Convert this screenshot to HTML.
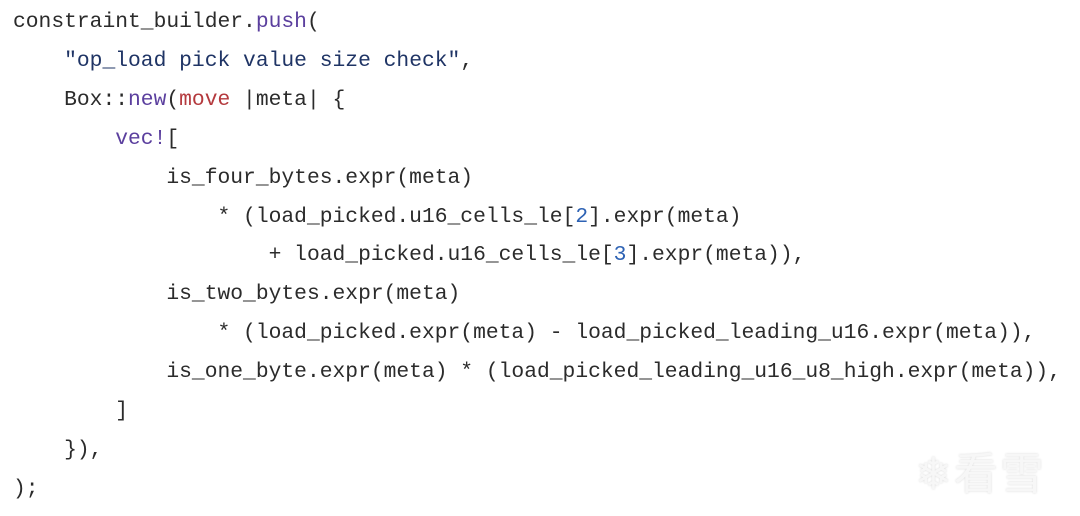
<!DOCTYPE html>
<html><head><meta charset="utf-8"><style>
html,body{margin:0;padding:0;background:#fff;width:1080px;height:516px;overflow:hidden;position:relative}
pre{margin:0;position:absolute;left:13px;top:3px;font-family:"Liberation Mono",monospace;font-size:21.3px;line-height:38.9px;color:#2b2b2b}
.f{color:#5b3f9e}.k{color:#b4393d}.s{color:#1f3465}.n{color:#2d62b4}
.wm{position:absolute;left:915px;top:438px;font-family:"Noto Sans CJK SC",sans-serif;font-size:44px;color:#f7f7f7;text-shadow:0 0 2px #d8d8d8;letter-spacing:2px}
</style></head><body>
<pre>constraint_builder.<span class="f">push</span>(
    <span class="s">"op_load pick value size check"</span>,
    Box::<span class="f">new</span>(<span class="k">move</span> |meta| {
        <span class="f">vec!</span>[
            is_four_bytes.expr(meta)
                * (load_picked.u16_cells_le[<span class="n">2</span>].expr(meta)
                    + load_picked.u16_cells_le[<span class="n">3</span>].expr(meta)),
            is_two_bytes.expr(meta)
                * (load_picked.expr(meta) - load_picked_leading_u16.expr(meta)),
            is_one_byte.expr(meta) * (load_picked_leading_u16_u8_high.expr(meta)),
        ]
    }),
);</pre>
<div class="wm">❄看雪</div>
</body></html>
